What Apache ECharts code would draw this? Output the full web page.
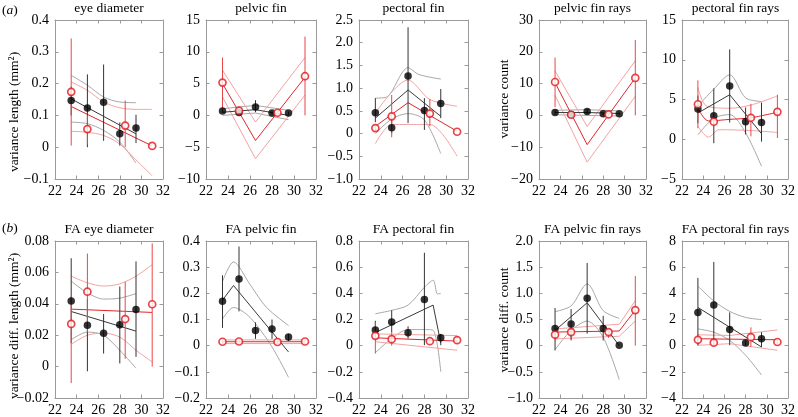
<!DOCTYPE html>
<html><head><meta charset="utf-8">
<script src="https://cdn.jsdelivr.net/npm/echarts@6/dist/echarts.min.js"></script>
<style>html,body{margin:0;padding:0;background:#fff}#c{width:798px;height:417px}</style>
</head><body><div id="c"></div><script>
// ---------- shared x positions (temperature) ----------
const xBlack = [23.5, 25, 26.5, 28, 29.5];
const xRed = [23.5, 25, 28.5, 31];
const xTicks = [22, 24, 26, 28, 30, 32];

// ---------- (a) eye diameter ----------
const eyeBMean = [0.147, 0.123, 0.141, 0.042, 0.060];
const eyeBErr = [[0.10, 0.19], [0.0, 0.229], [0.02, 0.26], [0.005, 0.078], [0.013, 0.102]];
const eyeRMean = [0.174, 0.057, 0.068, 0.004];
const eyeRErr = [[0.005, 0.342], [0.008, 0.10], [0.0, 0.147], null];
const eyeBFit = [[23.5, 0.152], [29.5, 0.042]];
const eyeBUp = [[23.5, 0.226], [25, 0.195], [26.5, 0.158], [28, 0.142], [29.5, 0.14]];
const eyeBDn = [[23.5, 0.079], [25, 0.074], [26.5, 0.053], [28, 0.016], [29.5, -0.05]];
const eyeRFit = [[23.5, 0.128], [31, 0.004]];
const eyeRUp = [[23.5, 0.205], [25, 0.179], [26.5, 0.142], [28, 0.124], [29.5, 0.119], [31, 0.119]];
const eyeRDn = [[23.5, 0.05], [25, 0.047], [26.5, 0.037], [28, 0.01], [29.5, -0.04], [31, -0.09]];

// ---------- (a) pelvic fin ----------
const pelBMean = [0.68, 0.47, 1.32, 0.37, 0.37];
const pelBErr = [[0.4, 1.0], [0.2, 0.8], [0.5, 2.4], [0.1, 0.6], [0.1, 0.6]];
const pelRMean = [5.16, 0.74, 0.42, 6.16];
const pelRErr = [[0.8, 9.1], [0.2, 1.4], [0.1, 0.8], [0.0, 12.4]];
const pelBFit = [[23.5, 0.5], [26.5, 0.9], [29.5, 0.0]];
const pelBUp = [[23.5, 1.05], [26.5, 1.58], [29.5, 0.79]];
const pelBDn = [[23.5, 0.0], [26.5, 0.37], [29.5, -0.68]];
const pelRFit = [[23.5, 5.0], [26.5, -3.95], [31, 6.0]];
const pelRUp = [[23.5, 7.1], [26.5, -1.05], [31, 9.1]];
const pelRDn = [[23.5, 2.9], [26.5, -6.8], [31, 3.2]];

// ---------- (a) pectoral fin ----------
const pecBMean = [0.46, 0.13, 1.27, 0.51, 0.66];
const pecBErr = [[0.25, 0.78], [0.0, 0.3], [0.23, 2.34], [0.08, 0.78], [0.34, 0.98]];
const pecRMean = [0.12, 0.38, 0.44, 0.04];
const pecRErr = [[0.05, 0.2], [-0.08, 0.85], [0.16, 0.76], null];
const pecBFit = [[23.5, 0.34], [26.5, 0.96], [29.5, 0.38]];
const pecBUp = [[23.5, 0.78], [24.5, 0.8], [26.5, 1.45], [27.5, 1.3], [29.5, 1.2]];
const pecBDn = [[23.5, 0.0], [25, 0.32], [26.5, 0.44], [28, 0.3], [29.5, -0.44]];
const pecRFit = [[23.5, 0.16], [26.5, 0.68], [31, 0.05]];
const pecRUp = [[23.5, 0.45], [26.5, 1.18], [28.5, 0.75], [31, 0.6]];
const pecRDn = [[23.5, -0.22], [25, 0.2], [26.5, 0.2], [28.5, 0.2], [31, -0.5]];

// ---------- (a) pelvic fin rays ----------
const prBMean = [0.95, 0.3, 1.26, 0.5, 0.5];
const prBErr = [[0.2, 1.8], [0.0, 0.8], [0.3, 2.0], [0.1, 0.9], [0.1, 0.9]];
const prRMean = [10.5, 0.2, 0.3, 11.8];
const prRErr = [[2.6, 18.2], [-0.3, 0.8], [-0.3, 0.9], [0.0, 23.7]];
const prBFit = [[23.5, 0.9], [26.5, 0.9], [29.5, 0.6]];
const prBUp = [[23.5, 1.6], [26.5, 1.8], [29.5, 1.4]];
const prBDn = [[23.5, 0.2], [26.5, 0.0], [29.5, -0.2]];
const prRFit = [[23.5, 10.3], [26.5, -9.2], [31, 11.8]];
const prRUp = [[23.5, 14.0], [26.5, -3.5], [31, 17.2]];
const prRDn = [[23.5, 6.3], [26.5, -14.7], [31, 6.0]];

// ---------- (a) pectoral fin rays ----------
const pcrBMean = [3.79, 2.95, 6.7, 2.2, 2.1];
const pcrBErr = [[2.0, 5.5], [-0.5, 6.4], [2.1, 11.3], [0.6, 4.0], [-0.3, 4.6]];
const pcrRMean = [4.4, 2.2, 2.7, 3.45];
const pcrRErr = [[1.4, 7.4], [1.6, 2.8], [0.36, 4.45], [0.15, 5.6]];
const pcrBFit = [[23.5, 3.3], [26.5, 5.6], [29.5, 0.7]];
const pcrBUp = [[23.5, 4.2], [25, 6.3], [26.5, 8.1], [28, 5.2], [29.5, 4.75]];
const pcrBDn = [[23.5, 0.56], [25, 2.65], [26.5, 3.1], [28, 0.8], [29.5, -3.4]];
const pcrRFit = [[23.5, 3.9], [24.5, 2.3], [26.5, 2.5], [28.5, 2.7], [31, 3.4]];
const pcrRUp = [[23.5, 6.5], [24.3, 4.2], [26.5, 3.9], [28.5, 4.3], [31, 5.45]];
const pcrRDn = [[23.5, 1.6], [24.5, 0.27], [25.5, 1.2], [28.5, 1.1], [31, 0.85]];

// ---------- (b) FA eye diameter ----------
const faeBMean = [0.0418, 0.0263, 0.0213, 0.0267, 0.0364];
const faeBErr = [[0.015, 0.069], [-0.003, 0.043], [0.0083, 0.0335], [0.002, 0.051], [0.0062, 0.067]];
const faeRMean = [0.0272, 0.0477, 0.0303, 0.0397];
const faeRErr = [[-0.0105, 0.045], [0.022, 0.072], [0.005, 0.054], [0.0, 0.0785]];
const faeBFit = [[23.5, 0.0351], [29.5, 0.0226]];
const faeBUp = [[23.5, 0.0544], [25, 0.047], [26.5, 0.043], [28, 0.0436], [29.5, 0.0465]];
const faeBDn = [[23.5, 0.0171], [25, 0.022], [26.5, 0.02], [28, 0.0104], [29.5, -0.001]];
const faeRFit = [[23.5, 0.0366], [31, 0.0345]];
const faeRUp = [[23.5, 0.0576], [25, 0.0534], [26.5, 0.0513], [28, 0.0527], [29.5, 0.0576], [31, 0.065]];
const faeRDn = [[23.5, 0.0142], [25, 0.02], [26.5, 0.0213], [28, 0.0188], [29.5, 0.0104], [31, 0.003]];

// ---------- (b) FA pelvic fin ----------
const fapBMean = [0.170, 0.255, 0.058, 0.064, 0.033];
const fapBErr = [[0.068, 0.269], [0.131, 0.379], [0.026, 0.089], [0.026, 0.10], [0.018, 0.045]];
const fapRMean = [0.015, 0.016, 0.014, 0.016];
const fapRErr = [[0.008, 0.022], [0.008, 0.024], [0.007, 0.021], [0.008, 0.024]];
const fapBFit = [[23.5, 0.174], [24.5, 0.23], [29.5, -0.024]];
const fapBUp = [[23.5, 0.245], [24.5, 0.32], [26, 0.234], [27.5, 0.146], [29.5, 0.077]];
const fapBDn = [[23.5, 0.102], [24.5, 0.146], [26, 0.108], [28, -0.005], [29.5, -0.121]];
const fapRFit = [[23.5, 0.015], [31, 0.015]];
const fapRUp = [[23.5, 0.022], [31, 0.022]];
const fapRDn = [[23.5, 0.008], [31, 0.008]];

// ---------- (b) FA pectoral fin ----------
const facBMean = [0.12, 0.181, 0.098, 0.353, 0.06];
const facBErr = [[0.07, 0.19], [0.1, 0.27], [0.055, 0.148], [0.004, 0.71], [0.004, 0.09]];
const facRMean = [0.075, 0.05, 0.034, 0.042];
const facRErr = [[-0.06, 0.18], [0.0, 0.1], [0.02, 0.05], [0.02, 0.07]];
const facBFit = [[23.5, 0.10], [28.8, 0.31], [29.5, 0.02]];
const facBUp = [[23.5, 0.244], [25, 0.27], [26.5, 0.31], [28, 0.446], [28.8, 0.50], [29.2, 0.395], [29.5, 0.40]];
const facBDn = [[23.5, -0.054], [25, 0.055], [26.5, 0.123], [28, 0.123], [28.8, 0.118], [29.5, -0.2]];
const facRFit = [[23.5, 0.06], [31, 0.035]];
const facRUp = [[23.5, 0.09], [31, 0.077]];
const facRDn = [[23.5, 0.03], [31, -0.035]];

// ---------- (b) FA pelvic fin rays ----------
const faprBMean = [0.33, 0.415, 0.905, 0.33, 0.006];
const faprBErr = [[-0.09, 0.72], [0.1, 0.70], [0.23, 1.58], [0.1, 0.57], null];
const faprRMean = [0.21, 0.26, 0.26, 0.68];
const faprRErr = [[0.1, 0.3], [0.15, 0.35], [0.15, 0.32], [0.0, 1.33]];
const faprBFit = [[23.5, 0.29], [26.5, 0.82], [29.5, 0.0]];
const faprBUp = [[23.5, 0.65], [25, 0.76], [26.5, 1.18], [28, 0.67], [29.5, 0.52]];
const faprBDn = [[23.5, -0.075], [25, 0.29], [26.5, 0.47], [28, 0.16], [29.5, -0.65]];
const faprRFit = [[23.5, 0.26], [29.5, 0.28], [31, 0.68]];
const faprRUp = [[23.5, 0.32], [29.5, 0.41], [31, 0.86]];
const faprRDn = [[23.5, 0.13], [29.5, 0.18], [31, 0.47]];

// ---------- (b) FA pectoral fin rays ----------
const facrBMean = [2.54, 3.1, 1.23, 0.2, 0.53];
const facrBErr = [[0.03, 5.18], [0.03, 6.4], [0.03, 2.54], [0.0, 0.4], [-0.1, 1.03]];
const facrRMean = [0.45, 0.23, 0.65, 0.28];
const facrRErr = [[0.0, 0.9], [0.0, 0.5], [-0.1, 1.4], [0.1, 0.45]];
const facrBFit = [[23.5, 2.92], [29.5, -0.1]];
const facrBUp = [[23.5, 4.55], [25, 3.42], [26.5, 2.62], [28, 2.16], [29.5, 1.99]];
const facrBDn = [[23.5, 1.28], [25, 1.03], [26.5, 0.4], [28, -0.73], [29.5, -2.24]];
const facrRFit = [[23.5, 0.53], [31, 0.45]];
const facrRUp = [[23.5, 0.83], [26.5, 0.78], [31, 1.2]];
const facrRDn = [[23.5, 0.03], [26.5, 0.15], [31, -0.35]];

// ---------- titles & axis labels ----------
const panelTitles = ['eye diameter', 'pelvic fin', 'pectoral fin', 'pelvic fin rays', 'pectoral fin rays',
  'FA eye diameter', 'FA pelvic fin', 'FA pectoral fin', 'FA pelvic fin rays', 'FA pectoral fin rays'];
const yMins = [-0.1, -10, -1, -20, -5, -0.02, -0.2, -0.4, -1, -4];
const yMaxs = [0.4, 15, 2.5, 30, 15, 0.08, 0.4, 0.8, 2, 8];
const yIntervals = [0.1, 5, 0.5, 10, 5, 0.02, 0.1, 0.2, 0.5, 2];
const yDecimals = [1, 0, 1, 0, 0, 2, 1, 1, 1, 0];

const panelData = [
  [eyeBMean, eyeBErr, eyeRMean, eyeRErr, eyeBFit, eyeBUp, eyeBDn, eyeRFit, eyeRUp, eyeRDn],
  [pelBMean, pelBErr, pelRMean, pelRErr, pelBFit, pelBUp, pelBDn, pelRFit, pelRUp, pelRDn],
  [pecBMean, pecBErr, pecRMean, pecRErr, pecBFit, pecBUp, pecBDn, pecRFit, pecRUp, pecRDn],
  [prBMean, prBErr, prRMean, prRErr, prBFit, prBUp, prBDn, prRFit, prRUp, prRDn],
  [pcrBMean, pcrBErr, pcrRMean, pcrRErr, pcrBFit, pcrBUp, pcrBDn, pcrRFit, pcrRUp, pcrRDn],
  [faeBMean, faeBErr, faeRMean, faeRErr, faeBFit, faeBUp, faeBDn, faeRFit, faeRUp, faeRDn],
  [fapBMean, fapBErr, fapRMean, fapRErr, fapBFit, fapBUp, fapBDn, fapRFit, fapRUp, fapRDn],
  [facBMean, facBErr, facRMean, facRErr, facBFit, facBUp, facBDn, facRFit, facRUp, facRDn],
  [faprBMean, faprBErr, faprRMean, faprRErr, faprBFit, faprBUp, faprBDn, faprRFit, faprRUp, faprRDn],
  [facrBMean, facrBErr, facrRMean, facrRErr, facrBFit, facrBUp, facrBDn, facrRFit, facrRUp, facrRDn]
];

// ---------- layout ----------
const colLeft = [55, 206, 359, 539, 682];
const colWidth = [108, 110, 109, 107, 107];
const rowTop = [20, 241];
const plotH = 159;
const FONT = 'Liberation Serif, Times New Roman, DejaVu Serif, serif';
const BOX = '#9a9a9a';
const BLACK_BAND = '#a8a8a8', BLACK_FIT = '#3a3a3a', BLACK_ERR = '#333333';
const RED_BAND = '#f3a3a3', RED_FIT = '#e0262a', RED_ERR = '#e8474a', RED_MARK = '#e3161b';

function fmt(d) {
  return function (v) {
    if (Math.abs(v) < 1e-9) return '0';
    return (v < 0 ? '\u2212' : '') + Math.abs(v).toFixed(d);
  };
}

const grids = [], xAxes = [], yAxes = [], series = [], graphics = [];

for (let i = 0; i < 10; i++) {
  const r = Math.floor(i / 5), c = i % 5;
  grids.push({ left: colLeft[c], top: rowTop[r], width: colWidth[c], height: plotH, show: false });
  const common = {
    type: 'value', gridIndex: i, splitLine: { show: false },
    axisLine: { show: true, onZero: false, lineStyle: { color: BOX, width: 1 } },
    axisTick: { show: true, inside: true, length: 3.5, lineStyle: { color: BOX } }
  };
  xAxes.push(Object.assign({}, common, {
    position: 'bottom', min: 22, max: 32, interval: 2,
    axisLabel: { show: true, color: '#000', fontFamily: FONT, fontSize: 14, margin: 5 }
  }));
  xAxes.push(Object.assign({}, common, {
    position: 'top', min: 22, max: 32, interval: 2, axisLabel: { show: false }
  }));
  yAxes.push(Object.assign({}, common, {
    position: 'left', min: yMins[i], max: yMaxs[i], interval: yIntervals[i],
    axisLabel: { show: true, color: '#000', fontFamily: FONT, fontSize: 14, margin: 6, formatter: fmt(yDecimals[i]) }
  }));
  yAxes.push(Object.assign({}, common, {
    position: 'right', min: yMins[i], max: yMaxs[i], interval: yIntervals[i], axisLabel: { show: false }
  }));

  const [bMean, bErr, rMean, rErr, bFit, bUp, bDn, rFit, rUp, rDn] = panelData[i];
  const ax = { xAxisIndex: 2 * i, yAxisIndex: 2 * i };
  const line = (data, color, w, z) => Object.assign({
    type: 'line', data: data, symbol: 'none', showSymbol: false, silent: true,
    smooth: data.length >= 4 ? 0.3 : false,
    lineStyle: { color: color, width: w }, z: z
  }, ax);
  const errBars = (xs, err, color, z) => Object.assign({
    type: 'custom', silent: true, clip: true, z: z,
    encode: { x: 0, y: [1, 2] },
    data: xs.map((x, k) => err[k] ? [x, err[k][0], err[k][1]] : null).filter(Boolean),
    renderItem: function (params, api) {
      const p1 = api.coord([api.value(0), api.value(1)]);
      const p2 = api.coord([api.value(0), api.value(2)]);
      return { type: 'line', shape: { x1: p1[0], y1: p1[1], x2: p2[0], y2: p2[1] },
        style: { stroke: color, lineWidth: 1 } };
    }
  }, ax);

  series.push(line(bUp, BLACK_BAND, 1, 2));
  series.push(line(bDn, BLACK_BAND, 1, 2));
  series.push(line(rUp, RED_BAND, 1, 2));
  series.push(line(rDn, RED_BAND, 1, 2));
  series.push(line(bFit, BLACK_FIT, 1, 3));
  series.push(line(rFit, RED_FIT, 1, 3));
  series.push(errBars(xBlack, bErr, BLACK_ERR, 4));
  series.push(errBars(xRed, rErr, RED_ERR, 4));
  series.push(Object.assign({
    type: 'scatter', silent: true, z: 5, symbol: 'circle', symbolSize: 7.5,
    itemStyle: { color: '#000' },
    data: xBlack.map((x, k) => [x, bMean[k]])
  }, ax));
  series.push(Object.assign({
    type: 'scatter', silent: true, z: 6, symbol: 'circle', symbolSize: 7,
    itemStyle: { color: '#fff', borderColor: RED_MARK, borderWidth: 1.7 },
    data: xRed.map((x, k) => [x, rMean[k]])
  }, ax));

  graphics.push({
    type: 'text', x: colLeft[c] + colWidth[c] / 2, y: rowTop[r] - 12,
    style: { text: panelTitles[i], textAlign: 'center', textVerticalAlign: 'middle',
      fontFamily: FONT, fontSize: 13.5, fill: '#000' }
  });
}

const yNames = [
  { t: 'variance length (mm\u00B2)', x: 14, y: 112 },
  { t: 'variance count', x: 504, y: 99 },
  { t: 'variance diff. length (mm\u00B2)', x: 14, y: 326 },
  { t: 'variance diff. count', x: 504, y: 320 }
];
yNames.forEach(n => graphics.push({
  type: 'text', x: n.x, y: n.y, rotation: Math.PI / 2,
  style: { text: n.t, textAlign: 'center', textVerticalAlign: 'middle', fontFamily: FONT, fontSize: 13.5, fill: '#000' }
}));
[['a', 10], ['b', 228]].forEach(p => graphics.push({
  type: 'text', x: 2, y: p[1],
  style: { text: '(' + '{i|' + p[0] + '})', textVerticalAlign: 'middle', fontFamily: FONT, fontSize: 13.5, fill: '#000',
    rich: { i: { fontStyle: 'italic', fontFamily: FONT, fontSize: 13.5 } } }
}));

const chart = echarts.init(document.getElementById('c'), null, { renderer: 'canvas' });
chart.setOption({
  animation: false,
  backgroundColor: '#fff',
  textStyle: { fontFamily: FONT },
  grid: grids, xAxis: xAxes, yAxis: yAxes, series: series, graphic: graphics
});
</script></body></html>
